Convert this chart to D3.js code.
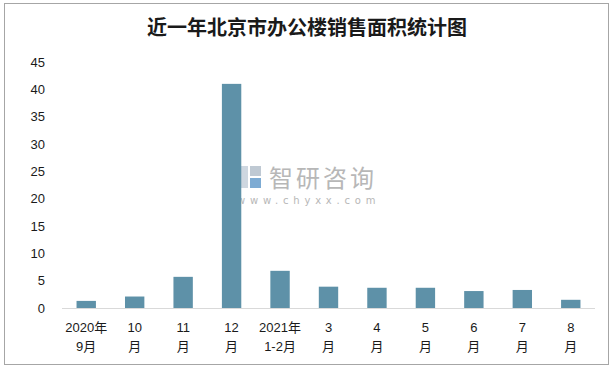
<!DOCTYPE html>
<html><head><meta charset="utf-8">
<script src="https://cdn.jsdelivr.net/npm/d3@7"></script>
<style>body{margin:0;background:#fff;}svg{display:block;}</style>
</head><body><svg id="c" width="614" height="369"></svg>
<script>
const title = "近一年北京市办公楼销售面积统计图";
const categories = ["2020年9月","10月","11月","12月","2021年1-2月","3月","4月","5月","6月","7月","8月"];
const labelLine1 = ["2020年","10","11","12","2021年","3","4","5","6","7","8"];
const labelLine2 = ["9月","月","月","月","1-2月","月","月","月","月","月","月"];
const values = [1.3, 2.1, 5.7, 41.0, 6.8, 3.9, 3.7, 3.7, 3.1, 3.3, 1.5];
const yTicks = [0,5,10,15,20,25,30,35,40,45];

const svg = d3.select("#c");
const font = "'Liberation Sans','Noto Sans CJK SC',sans-serif";

svg.append("rect").attr("x",4.5).attr("y",3.5).attr("width",604).attr("height",361)
  .attr("fill","#fff").attr("stroke","#a6a6a6").attr("stroke-width",1);

svg.append("text").attr("x",307).attr("y",35).attr("text-anchor","middle")
  .attr("font-family","'Noto Sans CJK SC',sans-serif").attr("font-weight","bold")
  .attr("font-size",20).attr("fill","#1a1a1a").text(title);

const x = d3.scaleBand().domain(categories).range([62,595]).paddingInner(0.6).paddingOuter(0.3);
const y = d3.scaleLinear().domain([0,45]).range([308,62]);

// watermark
const wm = svg.append("g").attr("opacity",0.9);
wm.append("rect").attr("x",238).attr("y",166).attr("width",10).attr("height",22).attr("fill","#c9d3dd");
wm.append("rect").attr("x",250).attr("y",166).attr("width",11).attr("height",10).attr("fill","#b9c4cf");
wm.append("rect").attr("x",250).attr("y",178).attr("width",11).attr("height",10).attr("fill","#6fa3cf");
wm.append("text").attr("x",269).attr("y",187).attr("font-family","'Noto Sans CJK SC',sans-serif")
  .attr("font-size",24).attr("letter-spacing","3px").attr("fill","#b0b0b0").text("智研咨询");
wm.append("text").attr("x",237).attr("y",204).attr("font-family","'DejaVu Sans',sans-serif")
  .attr("font-size",10).attr("letter-spacing","4.8px").attr("fill","#b0b0b0").text("www.chyxx.com");

svg.append("g").selectAll("rect").data(values).join("rect")
  .attr("x",(d,i)=>x(categories[i])).attr("width",x.bandwidth())
  .attr("y",d=>y(d)).attr("height",d=>y(0)-y(d)).attr("fill","#5e91a8");

svg.append("line").attr("x1",62).attr("x2",595).attr("y1",y(0)+0.5).attr("y2",y(0)+0.5)
  .attr("stroke","#d9d9d9").attr("stroke-width",1);

const yAxis = d3.axisLeft(y).tickValues(yTicks).tickSize(0).tickPadding(0);
const ya = svg.append("g").attr("transform","translate(45,0)").call(yAxis);
ya.select(".domain").remove();
ya.selectAll("text").attr("font-family",font).attr("font-size",13).attr("fill","#1a1a1a");

const lab = svg.append("g").selectAll("text").data(categories).join("text")
  .attr("text-anchor","middle").attr("font-family",font).attr("font-size",13).attr("fill","#1a1a1a");
lab.append("tspan").attr("x",d=>x(d)+x.bandwidth()/2).attr("y",332).text((d,i)=>labelLine1[i]);
lab.append("tspan").attr("x",d=>x(d)+x.bandwidth()/2).attr("y",351).text((d,i)=>labelLine2[i]);
</script></body></html>
